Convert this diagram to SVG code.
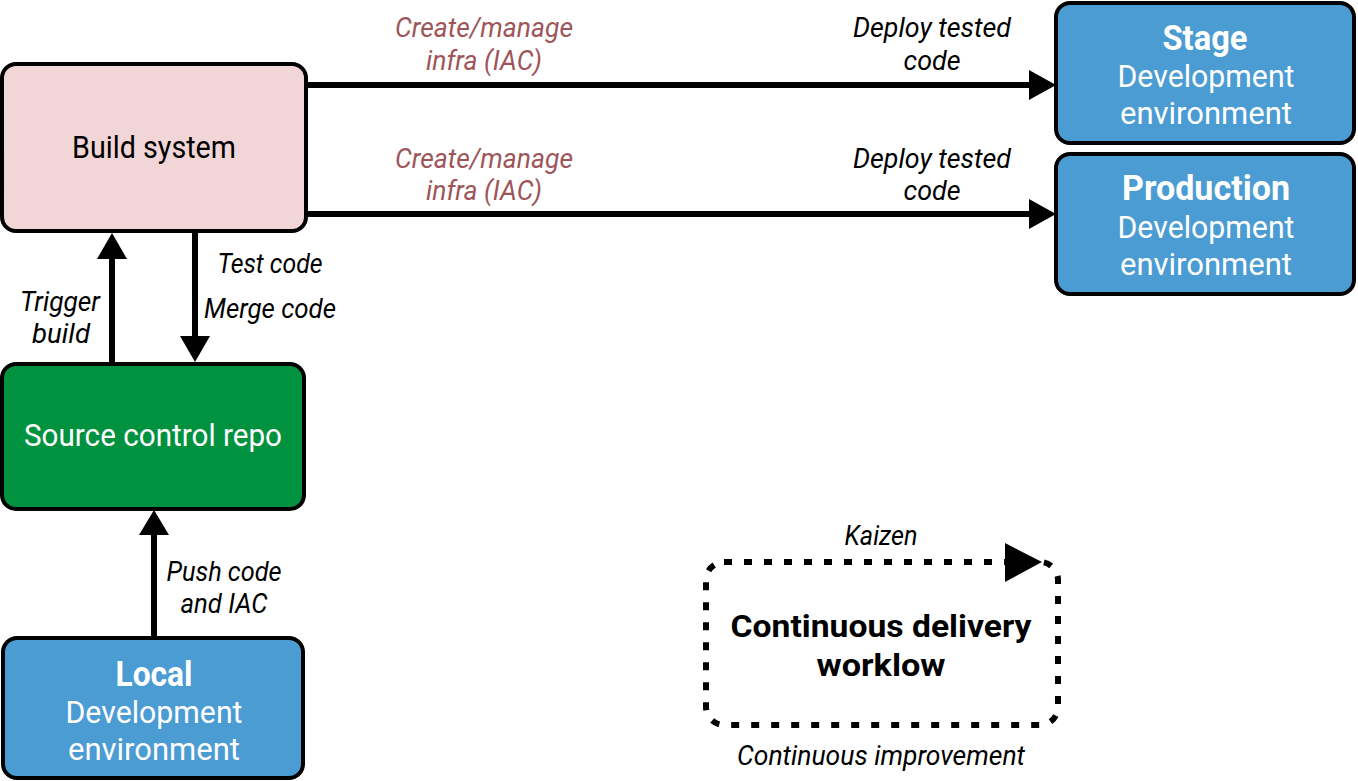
<svg xmlns="http://www.w3.org/2000/svg" width="1358" height="781" viewBox="0 0 1358 781">
<defs>
<style>
.box{stroke:#000;stroke-width:4}
.pink{fill:#f2d6d7}
.blue{fill:#4b9cd3}
.green{fill:#00923f}
text{font-family:Roboto,"Liberation Sans",sans-serif;text-anchor:middle}
.lbl{font-size:28px;font-style:italic;fill:#000}
.red{fill:#9e555a}
.w{fill:#fff;font-size:31px}
.wb{fill:#fff;font-size:35px;font-weight:bold}
.k{fill:#000;font-size:31px}
.kb{fill:#000;font-size:32px;font-weight:bold}
.line{stroke:#000;stroke-width:6;fill:none}
</style>
</defs>
<rect width="1358" height="781" fill="#fff"/>
<g id="connectors">
<line class="line" x1="306" y1="85" x2="1030" y2="85"/>
<polygon points="1029,70 1056,85 1029,100"/>
<line class="line" x1="306" y1="214" x2="1030" y2="214"/>
<polygon points="1029,199 1056,214 1029,229"/>
<line class="line" x1="112" y1="363" x2="112" y2="256"/>
<polygon points="97,259 112,233 127,259"/>
<line class="line" x1="195" y1="232" x2="195" y2="338"/>
<polygon points="180,336 195,362 210,336"/>
<line class="line" x1="154" y1="638" x2="154" y2="533"/>
<polygon points="139,535 154,510 169,535"/>
<text class="lbl red" x="484" y="37" textLength="178" lengthAdjust="spacingAndGlyphs">Create/manage</text>
<text class="lbl red" x="484" y="70" textLength="116" lengthAdjust="spacingAndGlyphs">infra (IAC)</text>
<text class="lbl red" x="484" y="168" textLength="178" lengthAdjust="spacingAndGlyphs">Create/manage</text>
<text class="lbl red" x="484" y="200" textLength="116" lengthAdjust="spacingAndGlyphs">infra (IAC)</text>
<text class="lbl" x="932" y="37" textLength="158" lengthAdjust="spacingAndGlyphs">Deploy tested</text>
<text class="lbl" x="932" y="70" textLength="57" lengthAdjust="spacingAndGlyphs">code</text>
<text class="lbl" x="932" y="168" textLength="158" lengthAdjust="spacingAndGlyphs">Deploy tested</text>
<text class="lbl" x="932" y="200" textLength="57" lengthAdjust="spacingAndGlyphs">code</text>
<text class="lbl" x="60" y="311" textLength="80" lengthAdjust="spacingAndGlyphs">Trigger</text>
<text class="lbl" x="61" y="343" textLength="58" lengthAdjust="spacingAndGlyphs">build</text>
<text class="lbl" x="270" y="273" textLength="105" lengthAdjust="spacingAndGlyphs">Test code</text>
<text class="lbl" x="270" y="318" textLength="132" lengthAdjust="spacingAndGlyphs">Merge code</text>
<text class="lbl" x="224" y="581" textLength="115" lengthAdjust="spacingAndGlyphs">Push code</text>
<text class="lbl" x="224" y="613" textLength="87" lengthAdjust="spacingAndGlyphs">and IAC</text>
</g>
<g id="build-system">
<rect class="box pink" x="2" y="64" width="304" height="167" rx="14"/>
<text class="k" x="154" y="158" textLength="164" lengthAdjust="spacingAndGlyphs">Build system</text>
</g>
<g id="stage">
<rect class="box blue" x="1056" y="3" width="298" height="140" rx="14"/>
<text class="wb" x="1205" y="50" textLength="85" lengthAdjust="spacingAndGlyphs">Stage</text>
<text class="w" x="1206" y="87" textLength="177" lengthAdjust="spacingAndGlyphs">Development</text>
<text class="w" x="1206" y="124" textLength="172" lengthAdjust="spacingAndGlyphs">environment</text>
</g>
<g id="production">
<rect class="box blue" x="1056" y="154" width="298" height="140" rx="14"/>
<text class="wb" x="1206" y="200" textLength="168" lengthAdjust="spacingAndGlyphs">Production</text>
<text class="w" x="1206" y="238" textLength="177" lengthAdjust="spacingAndGlyphs">Development</text>
<text class="w" x="1206" y="275" textLength="172" lengthAdjust="spacingAndGlyphs">environment</text>
</g>
<g id="source-control-repo">
<rect class="box green" x="2" y="364" width="302" height="145" rx="14"/>
<text class="w" x="153" y="446" textLength="258" lengthAdjust="spacingAndGlyphs">Source control repo</text>
</g>
<g id="local">
<rect class="box blue" x="3" y="638" width="300" height="140" rx="14"/>
<text class="wb" x="154" y="686" textLength="77" lengthAdjust="spacingAndGlyphs">Local</text>
<text class="w" x="154" y="723" textLength="177" lengthAdjust="spacingAndGlyphs">Development</text>
<text class="w" x="154" y="760" textLength="172" lengthAdjust="spacingAndGlyphs">environment</text>
</g>
<g id="continuous-delivery">
<rect x="706" y="562" width="352" height="163" rx="18" fill="none" stroke="#000" stroke-width="6" stroke-dasharray="8 12"/>
<polygon points="1005,543 1042,562 1005,582"/>
<text class="lbl" x="881" y="545" textLength="73" lengthAdjust="spacingAndGlyphs">Kaizen</text>
<text class="kb" x="881" y="637" textLength="301" lengthAdjust="spacingAndGlyphs">Continuous delivery</text>
<text class="kb" x="881" y="676" textLength="129" lengthAdjust="spacingAndGlyphs">worklow</text>
<text class="lbl" x="881" y="765" textLength="288" lengthAdjust="spacingAndGlyphs">Continuous improvement</text>
</g>
</svg>
